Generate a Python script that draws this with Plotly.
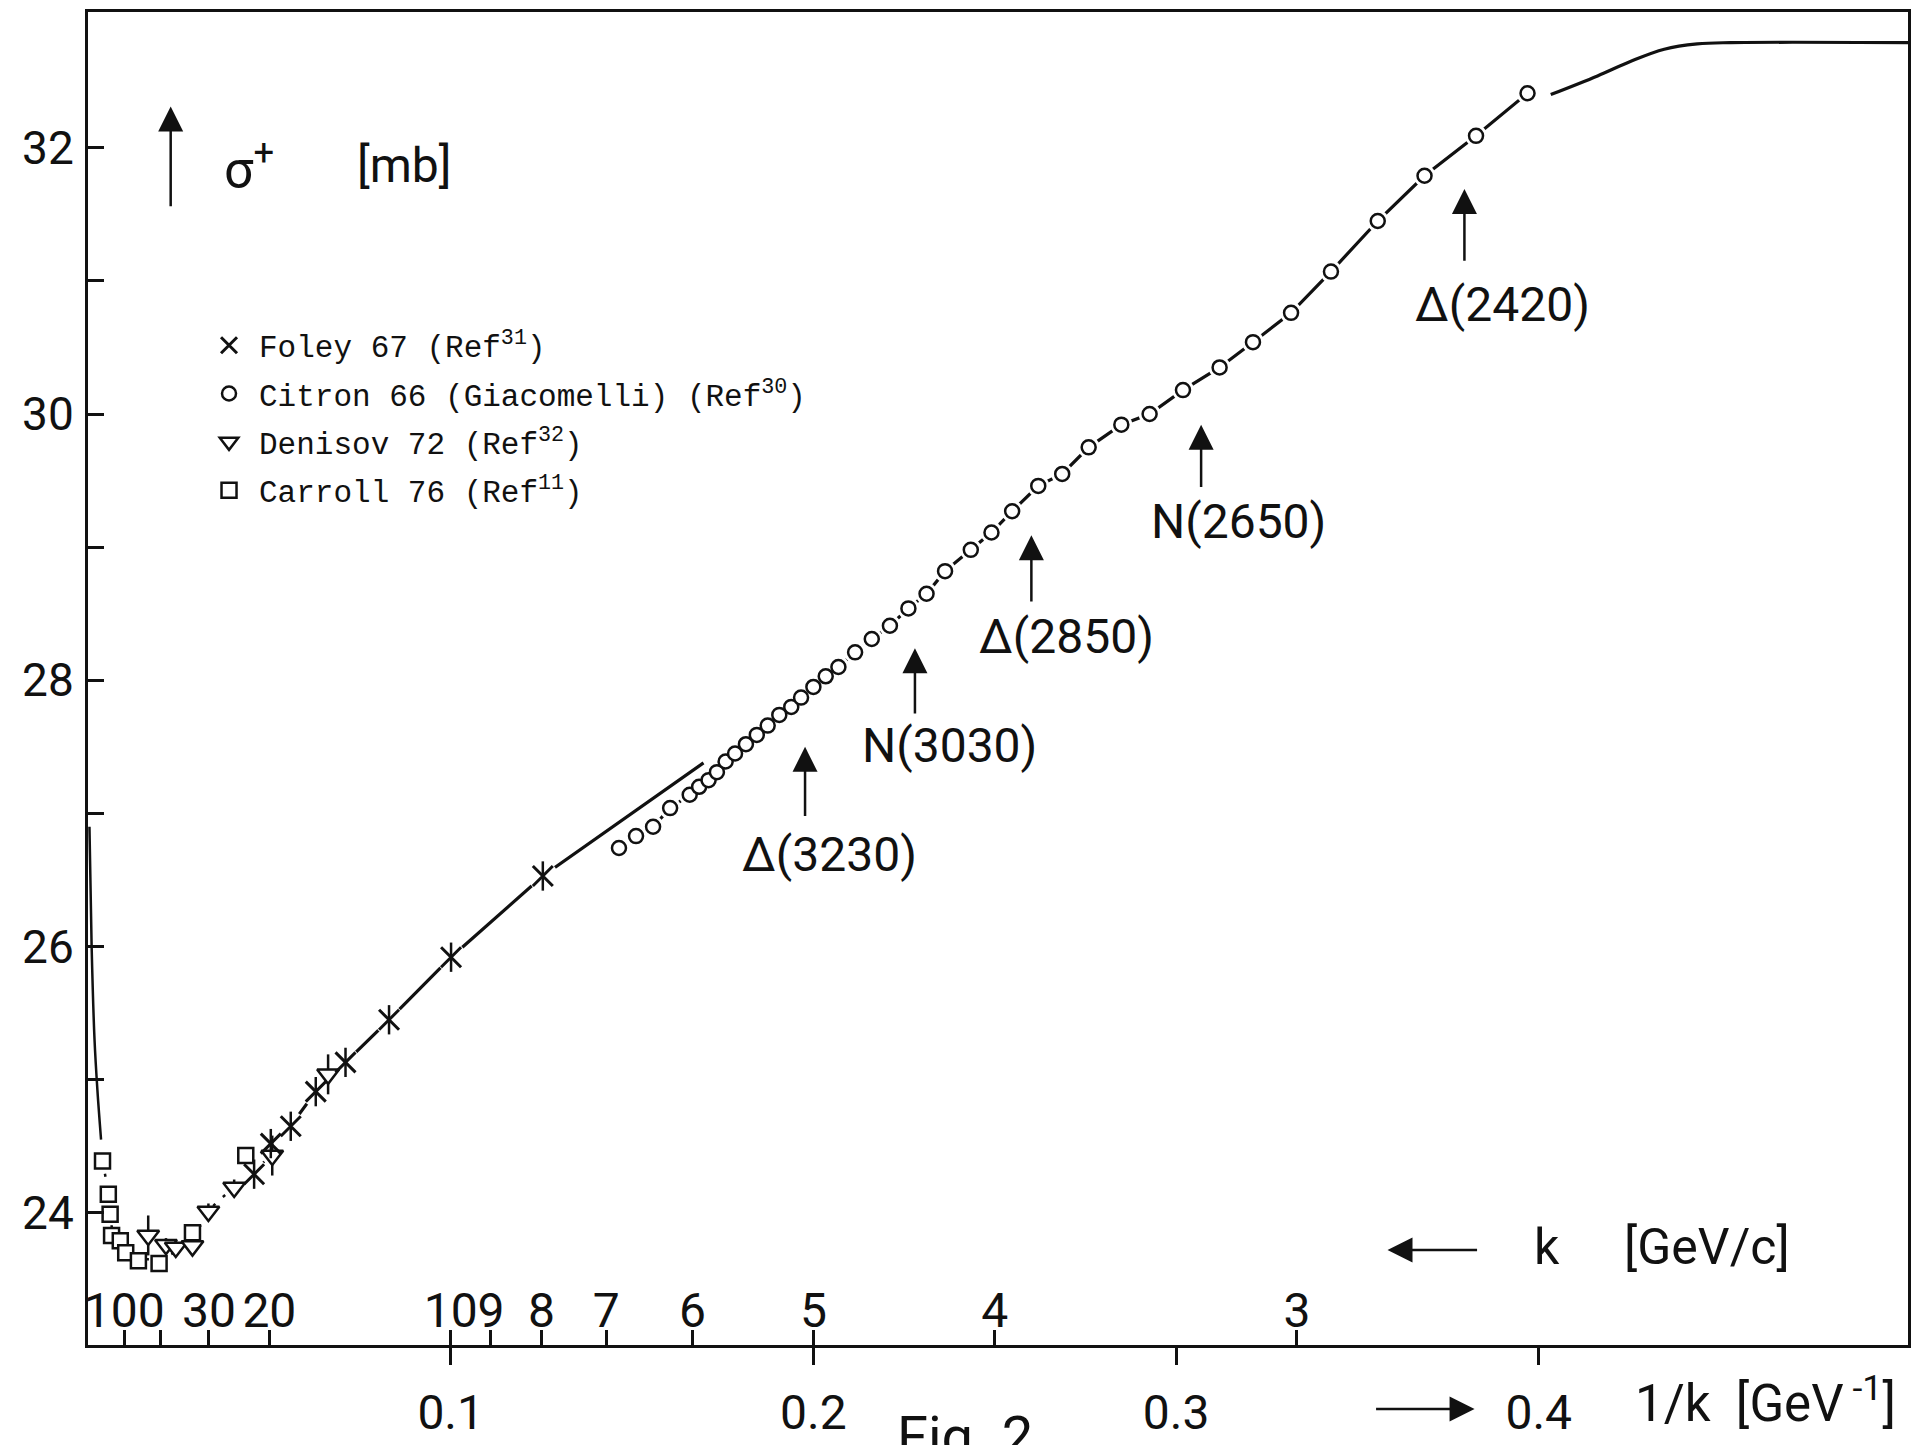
import plotly.graph_objects as go

# ---------------- data ----------------
# x = 1/k [GeV^-1], y = sigma_tot [mb]
foley_x = [0.0458, 0.0504, 0.0559, 0.0628, 0.0710, 0.0830, 0.1001, 0.1254]
foley_y = [24.29, 24.52, 24.65, 24.91, 25.13, 25.45, 25.92, 26.53]
foley_err = [0.11, 0.11, 0.11, 0.11, 0.11, 0.11, 0.11, 0.11]

citron_x = [0.1464, 0.1511, 0.1558, 0.1605, 0.1659, 0.1685, 0.1711, 0.1734, 0.1758,
            0.1784, 0.1814, 0.1844, 0.1874, 0.1906, 0.1939, 0.1966, 0.2000, 0.2034,
            0.2069, 0.2115, 0.2161, 0.2211, 0.2262, 0.2312, 0.2363, 0.2434, 0.2491,
            0.2548, 0.2620, 0.2686, 0.2759, 0.2849, 0.2927, 0.3019, 0.3120, 0.3212,
            0.3317, 0.3427, 0.3556, 0.3685, 0.3827, 0.3969]
citron_y = [26.74, 26.83, 26.90, 27.04, 27.14, 27.20, 27.25, 27.31, 27.39,
            27.45, 27.52, 27.59, 27.66, 27.74, 27.80, 27.87, 27.95, 28.03,
            28.10, 28.21, 28.31, 28.41, 28.54, 28.65, 28.82, 28.98, 29.11,
            29.27, 29.46, 29.55, 29.75, 29.92, 30.00, 30.18, 30.35, 30.54,
            30.76, 31.07, 31.45, 31.79, 32.09, 32.41]

denisov_x = [0.0166, 0.0215, 0.0242, 0.0288, 0.0332, 0.0403, 0.0508, 0.0662]
denisov_y = [23.83, 23.76, 23.74, 23.75, 24.01, 24.19, 24.43, 25.04]
denisov_err = [0.15, 0.05, 0.05, 0.05, 0.06, 0.06, 0.15, 0.15]

carroll_x = [0.0040, 0.0056, 0.0061, 0.0065, 0.0089, 0.0104, 0.0139, 0.0196, 0.0288, 0.0435]
carroll_y = [24.39, 24.14, 23.99, 23.83, 23.79, 23.70, 23.64, 23.62, 23.85, 24.43]

# hand-drawn fit curve, read as segments
fit_left_x = [0.0004, 0.0010, 0.0018, 0.0026, 0.0036]
fit_left_y = [26.90, 26.00, 25.30, 24.92, 24.55]
fit_low_x = [0.0040, 0.0056, 0.0065, 0.0089, 0.0139, 0.0196, 0.0250, 0.0300, 0.0332, 0.0403, 0.0458, 0.0504]
fit_low_y = [24.39, 24.14, 23.90, 23.76, 23.66, 23.66, 23.72, 23.86, 24.01, 24.19, 24.30, 24.45]
fit_mid_x = [0.0504, 0.0559, 0.0628, 0.0710, 0.0830, 0.1001, 0.1254, 0.1697]
fit_mid_y = [24.45, 24.65, 24.91, 25.13, 25.45, 25.92, 26.53, 27.38]
fit_top_x = [0.4033, 0.4162, 0.4254, 0.4346, 0.4437, 0.4529, 0.5018]
fit_top_y = [32.40, 32.54, 32.65, 32.74, 32.78, 32.79, 32.79]

# axes
inv_k_ticks = [0.1, 0.2, 0.3, 0.4]
inv_k_labels = ["0.1", "0.2", "0.3", "0.4"]
k_values = [100, 50, 30, 20, 10, 9, 8, 7, 6, 5, 4, 3]
k_labels = ["100", "", "30", "20", "10", "9", "8", "7", "6", "5", "4", "3"]
y_ticks = [24, 25, 26, 27, 28, 29, 30, 31, 32]
y_labels = ["24", "", "26", "", "28", "", "30", "", "32"]

# resonance markers: name, arrow x, head y, tail y, label x, label y
res_names = ["Δ(2420)", "N(2650)", "Δ(2850)", "N(3030)", "Δ(3230)"]
res_x = [0.3795, 0.3069, 0.2601, 0.2280, 0.1977]
res_head = [31.69, 29.92, 29.09, 28.24, 27.50]
res_tail = [31.14, 29.44, 28.58, 27.74, 26.97]
res_lx = [0.3900, 0.3171, 0.2697, 0.2374, 0.2044]
res_ly = [30.82, 29.19, 28.33, 27.51, 26.69]

INK = "#111111"
FONT = "Roboto, 'DejaVu Sans', sans-serif"
MONO = "'Liberation Mono', 'DejaVu Sans Mono', monospace"

fig = go.Figure()

# fit curve segments
fig.add_trace(go.Scatter(x=fit_left_x, y=fit_left_y, mode="lines",
                         line=dict(color=INK, width=2.5, shape="spline"), showlegend=False, hoverinfo="skip"))
fig.add_trace(go.Scatter(x=fit_low_x, y=fit_low_y, mode="lines",
                         line=dict(color=INK, width=2.5, dash="3px,10px", shape="spline"),
                         showlegend=False, hoverinfo="skip"))
fig.add_trace(go.Scatter(x=fit_mid_x, y=fit_mid_y, mode="lines",
                         line=dict(color=INK, width=3.2), showlegend=False, hoverinfo="skip"))
fig.add_trace(go.Scatter(x=citron_x, y=citron_y, mode="lines",
                         line=dict(color=INK, width=3.2), showlegend=False, hoverinfo="skip"))
fig.add_trace(go.Scatter(x=fit_top_x, y=fit_top_y, mode="lines",
                         line=dict(color=INK, width=3.2, shape="spline", smoothing=1.0),
                         showlegend=False, hoverinfo="skip"))

# white halos so the hand-drawn line breaks around the points
fig.add_trace(go.Scatter(x=foley_x, y=foley_y, mode="markers",
                         marker=dict(symbol="circle", size=30, color="white"),
                         showlegend=False, hoverinfo="skip"))
fig.add_trace(go.Scatter(x=citron_x, y=citron_y, mode="markers",
                         marker=dict(symbol="circle", size=22, color="white"),
                         showlegend=False, hoverinfo="skip"))

# data series
fig.add_trace(go.Scatter(
    x=carroll_x, y=carroll_y, mode="markers", name="Carroll 76 (Ref<sup>11</sup>)",
    legendrank=4, legendgroup="d",
    marker=dict(symbol="square", size=15, color="white", line=dict(color=INK, width=2.5))))
fig.add_trace(go.Scatter(
    x=denisov_x, y=denisov_y, mode="markers", name="Denisov 72 (Ref<sup>32</sup>)",
    legendrank=3, legendgroup="c",
    error_y=dict(type="data", array=denisov_err, color=INK, thickness=2.5, width=0),
    marker=dict(symbol="triangle-down", size=19, color="white", line=dict(color=INK, width=2.5))))
fig.add_trace(go.Scatter(
    x=citron_x, y=citron_y, mode="markers", name="Citron 66 (Giacomelli) (Ref<sup>30</sup>)",
    legendrank=2, legendgroup="b",
    marker=dict(symbol="circle", size=14, color="white", line=dict(color=INK, width=2.5))))
fig.add_trace(go.Scatter(
    x=foley_x, y=foley_y, mode="markers", name="Foley 67 (Ref<sup>31</sup>)",
    legendrank=1, legendgroup="a",
    error_y=dict(type="data", array=foley_err, color=INK, thickness=2.5, width=0),
    marker=dict(symbol="x-thin", size=20, color=INK, line=dict(color=INK, width=3))))

# k scale (secondary axis carrier)
fig.add_trace(go.Scatter(x=[1.0 / k for k in k_values], y=[None] * len(k_values), xaxis="x2",
                         mode="markers", showlegend=False, hoverinfo="skip"))

annotations = []
# resonance arrows and labels
for name, xa, yh, yt, lx, ly in zip(res_names, res_x, res_head, res_tail, res_lx, res_ly):
    annotations.append(dict(x=xa, y=yh, ax=xa, ay=yt, xref="x", yref="y", axref="x", ayref="y",
                            text="", showarrow=True, arrowhead=2, arrowsize=2.0, arrowwidth=2.5,
                            arrowcolor=INK, standoff=0))
    annotations.append(dict(x=lx, y=ly, xref="x", yref="y", text=name, showarrow=False,
                            font=dict(family=FONT, size=48, color=INK), xanchor="center", yanchor="middle"))

# sigma label with arrow
annotations.append(dict(x=0.0228, y=32.31, ax=0.0228, ay=31.55, xref="x", yref="y", axref="x", ayref="y",
                        text="", showarrow=True, arrowhead=2, arrowsize=2.0, arrowwidth=2.5,
                        arrowcolor=INK, standoff=0))
annotations.append(dict(x=0.0445, y=31.87, xref="x", yref="y", text="σ<sup>+</sup>", showarrow=False,
                        font=dict(family=FONT, size=52, color=INK), xanchor="center", yanchor="middle"))
annotations.append(dict(x=0.0874, y=31.87, xref="x", yref="y", text="[mb]", showarrow=False,
                        font=dict(family=FONT, size=48, color=INK), xanchor="center", yanchor="middle"))

# k axis label with left arrow
annotations.append(dict(x=0.3583, y=23.72, ax=0.3834, ay=23.72, xref="x", yref="y", axref="x", ayref="y",
                        text="", showarrow=True, arrowhead=2, arrowsize=2.0, arrowwidth=2.5,
                        arrowcolor=INK, standoff=0))
annotations.append(dict(x=0.4024, y=23.74, xref="x", yref="y", text="k", showarrow=False,
                        font=dict(family=FONT, size=50, color=INK), xanchor="center", yanchor="middle"))
annotations.append(dict(x=0.4465, y=23.74, xref="x", yref="y", text="[GeV/c]", showarrow=False,
                        font=dict(family=FONT, size=50, color=INK), xanchor="center", yanchor="middle"))

# 1/k axis label with right arrow (below the axis)
annotations.append(dict(x=0.3823, y=-0.048, ax=-100, ay=0, xref="x", yref="paper", axref="pixel", ayref="pixel",
                        text="", showarrow=True, arrowhead=2, arrowsize=2.0, arrowwidth=2.5,
                        arrowcolor=INK, standoff=0))
annotations.append(dict(x=0.4625, y=-0.041, xref="x", yref="paper", text="1/k  [GeV<sup> -1</sup>]",
                        showarrow=False, font=dict(family=FONT, size=51, color=INK),
                        xanchor="center", yanchor="middle"))
annotations.append(dict(x=0.2419, y=-0.0425, xref="x", yref="paper", text="Fig. 2", showarrow=False,
                        font=dict(family=FONT, size=56, color=INK), xanchor="center", yanchor="top"))

fig.update_layout(
    width=1915, height=1445,
    margin=dict(l=88, r=4, t=12, b=88),
    paper_bgcolor="white", plot_bgcolor="white",
    font=dict(family=FONT, color=INK),
    showlegend=True,
    legend=dict(x=0.061, y=0.770, xanchor="left", yanchor="top", bgcolor="rgba(0,0,0,0)",
                font=dict(family=MONO, size=31, color=INK), tracegroupgap=5, itemwidth=50,
                traceorder="grouped"),
    xaxis=dict(range=[0, 0.5018], tickvals=inv_k_ticks, ticktext=inv_k_labels,
               ticks="outside", ticklen=17, tickwidth=2.5, tickcolor=INK, tickangle=0,
               showline=True, linewidth=3, linecolor=INK, mirror=True,
               showgrid=False, zeroline=False, ticklabelstandoff=6,
               tickfont=dict(family=FONT, size=48, color=INK)),
    xaxis2=dict(range=[0, 0.5018], overlaying="x", anchor="y", side="bottom",
                tickvals=[1.0 / k for k in k_values], ticktext=k_labels, tickangle=0,
                ticks="inside", ticklen=15, tickwidth=2.5, tickcolor=INK,
                ticklabelposition="inside", ticklabeloverflow="allow",
                showline=False, showgrid=False, zeroline=False,
                tickfont=dict(family=FONT, size=48, color=INK)),
    yaxis=dict(range=[23.007, 33.02], tickvals=y_ticks, ticktext=y_labels,
               ticks="inside", ticklen=16, tickwidth=2.5, tickcolor=INK,
               showline=True, linewidth=3, linecolor=INK, mirror=True,
               showgrid=False, zeroline=False, ticklabelstandoff=2,
               tickfont=dict(family=FONT, size=46, color=INK)),
    annotations=annotations,
)

fig.write_html("out.html")
